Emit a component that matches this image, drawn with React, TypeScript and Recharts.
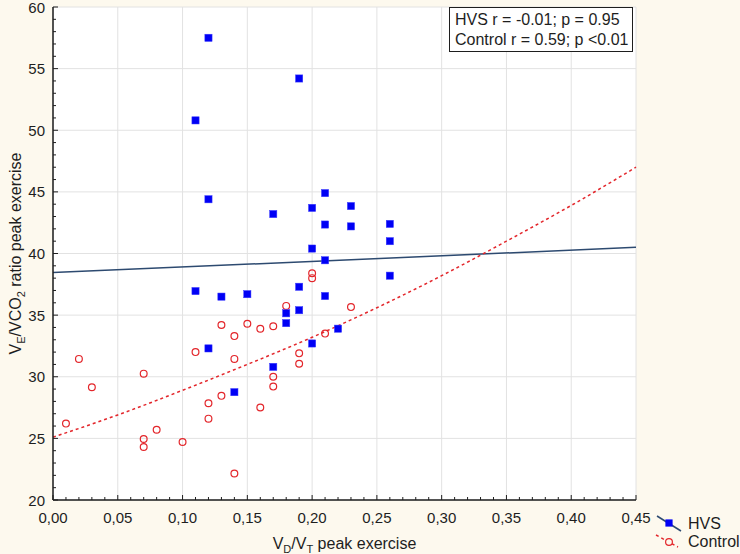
import React from 'react';
import { ComposedChart, Scatter, Line, XAxis, YAxis, CartesianGrid } from 'recharts';

// HVS patients (filled squares)
const hvsX = [0.12, 0.19, 0.11, 0.12, 0.17, 0.21, 0.20, 0.23, 0.21, 0.23, 0.26, 0.26, 0.20, 0.21,
  0.26, 0.11, 0.13, 0.15, 0.19, 0.21, 0.18, 0.19, 0.18, 0.22, 0.12, 0.20, 0.17, 0.14];
const hvsY = [57.5, 54.2, 50.8, 44.4, 43.2, 44.9, 43.7, 43.85, 42.35, 42.2, 42.4, 41.0, 40.4, 39.45,
  38.2, 36.95, 36.5, 36.7, 37.3, 36.55, 35.15, 35.4, 34.35, 33.9, 32.3, 32.7, 30.8, 28.75];

// Control subjects (open circles)
const controlX = [0.20, 0.20, 0.18, 0.23, 0.13, 0.15, 0.16, 0.17, 0.14, 0.21, 0.11, 0.19, 0.14, 0.19,
  0.02, 0.07, 0.17, 0.03, 0.17, 0.13, 0.12, 0.16, 0.12, 0.01, 0.08, 0.07, 0.07, 0.10, 0.14];
const controlY = [38.4, 38.0, 35.75, 35.65, 34.2, 34.3, 33.9, 34.1, 33.3, 33.5, 32.0, 31.9, 31.45, 31.05,
  31.45, 30.25, 30.0, 29.15, 29.2, 28.45, 27.85, 27.5, 26.6, 26.2, 25.7, 24.95, 24.3, 24.7, 22.15];

// fitted lines
const hvsFitX = [0, 0.45];
const hvsFitY = [38.45, 40.5];
const controlFitX = [0, 0.05, 0.1, 0.15, 0.2, 0.25, 0.3, 0.35, 0.4, 0.45];
const controlFitY = [25.1, 26.9, 28.9, 31.0, 33.2, 35.6, 38.2, 41.0, 43.9, 47.0];

const xMajorTicks = [0, 0.05, 0.1, 0.15, 0.2, 0.25, 0.3, 0.35, 0.4, 0.45];
const yMajorTicks = [20, 25, 30, 35, 40, 45, 50, 55, 60];
const xMinorTicks = Array.from({ length: 46 }, (_, i) => i / 100);
const yMinorTicks = Array.from({ length: 41 }, (_, i) => 20 + i);

const hvsData = hvsX.map((x, i) => ({ x, y: hvsY[i] }));
const controlData = controlX.map((x, i) => ({ x, y: controlY[i] }));
const hvsFit = hvsFitX.map((x, i) => ({ x, y: hvsFitY[i] }));
const controlFit = controlFitX.map((x, i) => ({ x, y: controlFitY[i] }));

const FONT = '"Liberation Sans", Arial, sans-serif';
const INK = '#1e1e1e';

const isMajorX = (v: number) => Math.round(v * 100) % 5 === 0;
const isMajorY = (v: number) => Math.round(v) % 5 === 0;
const fmtX = (v: number) => v.toFixed(2).replace('.', ',');

// ticks drawn pointing into the plot, Statistica style
const BottomTick = ({ x, y, payload }: any) => {
  const major = isMajorX(payload.value);
  return (
    <g>
      <line x1={x} x2={x} y1={y} y2={y - (major ? 5 : 3)} stroke={INK} />
      {major && (
        <text x={x} y={y + 23} textAnchor="middle" fontSize={15} fontFamily={FONT} fill={INK}>
          {fmtX(payload.value)}
        </text>
      )}
    </g>
  );
};

const TopTick = ({ x, y, payload }: any) => {
  const major = isMajorX(payload.value);
  return <line x1={x} x2={x} y1={y} y2={y + (major ? 5 : 3)} stroke={INK} />;
};

const LeftTick = ({ x, y, payload }: any) => {
  const major = isMajorY(payload.value);
  return (
    <g>
      <line x1={x} x2={x + (major ? 5 : 3)} y1={y} y2={y} stroke={INK} />
      {major && (
        <text x={x - 8} y={y + 5.5} textAnchor="end" fontSize={15} fontFamily={FONT} fill={INK}>
          {payload.value}
        </text>
      )}
    </g>
  );
};

const RightTick = ({ x, y, payload }: any) => {
  const major = isMajorY(payload.value);
  return <line x1={x} x2={x - (major ? 5 : 3)} y1={y} y2={y} stroke={INK} />;
};

const XTitle = ({ viewBox }: any) => {
  const cx = viewBox.x + viewBox.width / 2;
  return (
    <text x={cx} y={549} textAnchor="middle" fontSize={16} fontFamily={FONT} fill={INK}>
      <tspan>V</tspan>
      <tspan fontSize={11} dy={4}>D</tspan>
      <tspan dy={-4}>/V</tspan>
      <tspan fontSize={11} dy={4}>T</tspan>
      <tspan dy={-4}> peak exercise</tspan>
    </text>
  );
};

const YTitle = ({ viewBox }: any) => {
  const cy = viewBox.y + viewBox.height / 2;
  return (
    <text x={21} y={cy} transform={`rotate(-90, 21, ${cy})`} textAnchor="middle"
      fontSize={16} fontFamily={FONT} fill={INK}>
      <tspan>V</tspan>
      <tspan fontSize={11} dy={4}>E</tspan>
      <tspan dy={-4}>/VCO</tspan>
      <tspan fontSize={11} dy={4}>2</tspan>
      <tspan dy={-4}> ratio peak exercise</tspan>
    </text>
  );
};

const Square = ({ cx, cy }: any) => (
  <rect x={cx - 3.6} y={cy - 3.6} width={7.2} height={7.2} fill="#0000f5" stroke="#3a3aff" strokeWidth={0.5} />
);

const Ring = ({ cx, cy }: any) => (
  <circle cx={cx} cy={cy} r={3.4} fill="none" stroke="#e3262b" strokeWidth={1.2} />
);

export default function App() {
  return (
    <div style={{ position: 'absolute', left: 0, top: 0, width: 740, height: 554, background: '#fdf9ee' }}>
      <ComposedChart width={740} height={554} margin={{ top: 7, right: 104, bottom: 0, left: 0 }}>
        <CartesianGrid
          fill="#ffffff"
          stroke="#e2e2e2"
          horizontalValues={yMajorTicks}
          verticalValues={xMajorTicks}
        />
        <XAxis
          dataKey="x"
          type="number"
          domain={[0, 0.45]}
          ticks={xMinorTicks}
          interval={0}
          height={54}
          tickSize={0}
          tickMargin={0}
          tickLine={false}
          tick={<BottomTick />}
          axisLine={{ stroke: INK, strokeWidth: 1.5 }}
          label={<XTitle />}
        />
        <XAxis
          xAxisId="top"
          orientation="top"
          type="number"
          domain={[0, 0.45]}
          ticks={xMinorTicks}
          interval={0}
          height={0}
          tickSize={0}
          tickMargin={0}
          tickLine={false}
          tick={<TopTick />}
          axisLine={{ stroke: INK, strokeWidth: 1.5 }}
        />
        <YAxis
          dataKey="y"
          type="number"
          domain={[20, 60]}
          ticks={yMinorTicks}
          interval={0}
          width={53}
          tickSize={0}
          tickMargin={0}
          tickLine={false}
          tick={<LeftTick />}
          axisLine={{ stroke: INK, strokeWidth: 1.5 }}
          label={<YTitle />}
        />
        <YAxis
          yAxisId="right"
          orientation="right"
          type="number"
          domain={[20, 60]}
          ticks={yMinorTicks}
          interval={0}
          width={0}
          tickSize={0}
          tickMargin={0}
          tickLine={false}
          tick={<RightTick />}
          axisLine={{ stroke: INK, strokeWidth: 1.5 }}
        />
        <Line
          data={hvsFit}
          dataKey="y"
          type="linear"
          stroke="#2d4a70"
          strokeWidth={1.5}
          dot={false}
          activeDot={false}
          isAnimationActive={false}
        />
        <Line
          data={controlFit}
          dataKey="y"
          type="monotone"
          stroke="#e3262b"
          strokeWidth={1.5}
          strokeDasharray="3 3"
          dot={false}
          activeDot={false}
          isAnimationActive={false}
        />
        <Scatter name="Control" data={controlData} dataKey="y" shape={<Ring />} isAnimationActive={false} />
        <Scatter name="HVS" data={hvsData} dataKey="y" shape={<Square />} isAnimationActive={false} />
      </ComposedChart>

      {/* correlation box */}
      <div
        style={{
          position: 'absolute', left: 449, top: 7, width: 184, height: 45, boxSizing: 'border-box',
          border: `1.5px solid ${INK}`, background: '#fff', padding: '2px 5px',
          fontFamily: FONT, fontSize: 16, lineHeight: '19.5px', color: INK, whiteSpace: 'nowrap',
        }}
      >
        <div>HVS r = -0.01; p = 0.95</div>
        <div>Control r = 0.59; p &lt;0.01</div>
      </div>

      {/* legend */}
      <svg style={{ position: 'absolute', left: 650, top: 505 }} width={90} height={49}>
        <line x1={7} y1={11} x2={31} y2={26} stroke="#2d4a70" strokeWidth={1.5} />
        <rect x={15.4} y={14.4} width={7.2} height={7.2} fill="#0000f5" />
        <text x={38} y={24} fontSize={16} fontFamily={FONT} fill={INK}>HVS</text>
        <line x1={6} y1={30} x2={28} y2={42} stroke="#e3262b" strokeWidth={1.5} strokeDasharray="3 3" />
        <circle cx={19} cy={37} r={3.4} fill="#fdf9ee" stroke="#e3262b" strokeWidth={1.2} />
        <text x={38} y={42} fontSize={16} fontFamily={FONT} fill={INK}>Control</text>
      </svg>
    </div>
  );
}
